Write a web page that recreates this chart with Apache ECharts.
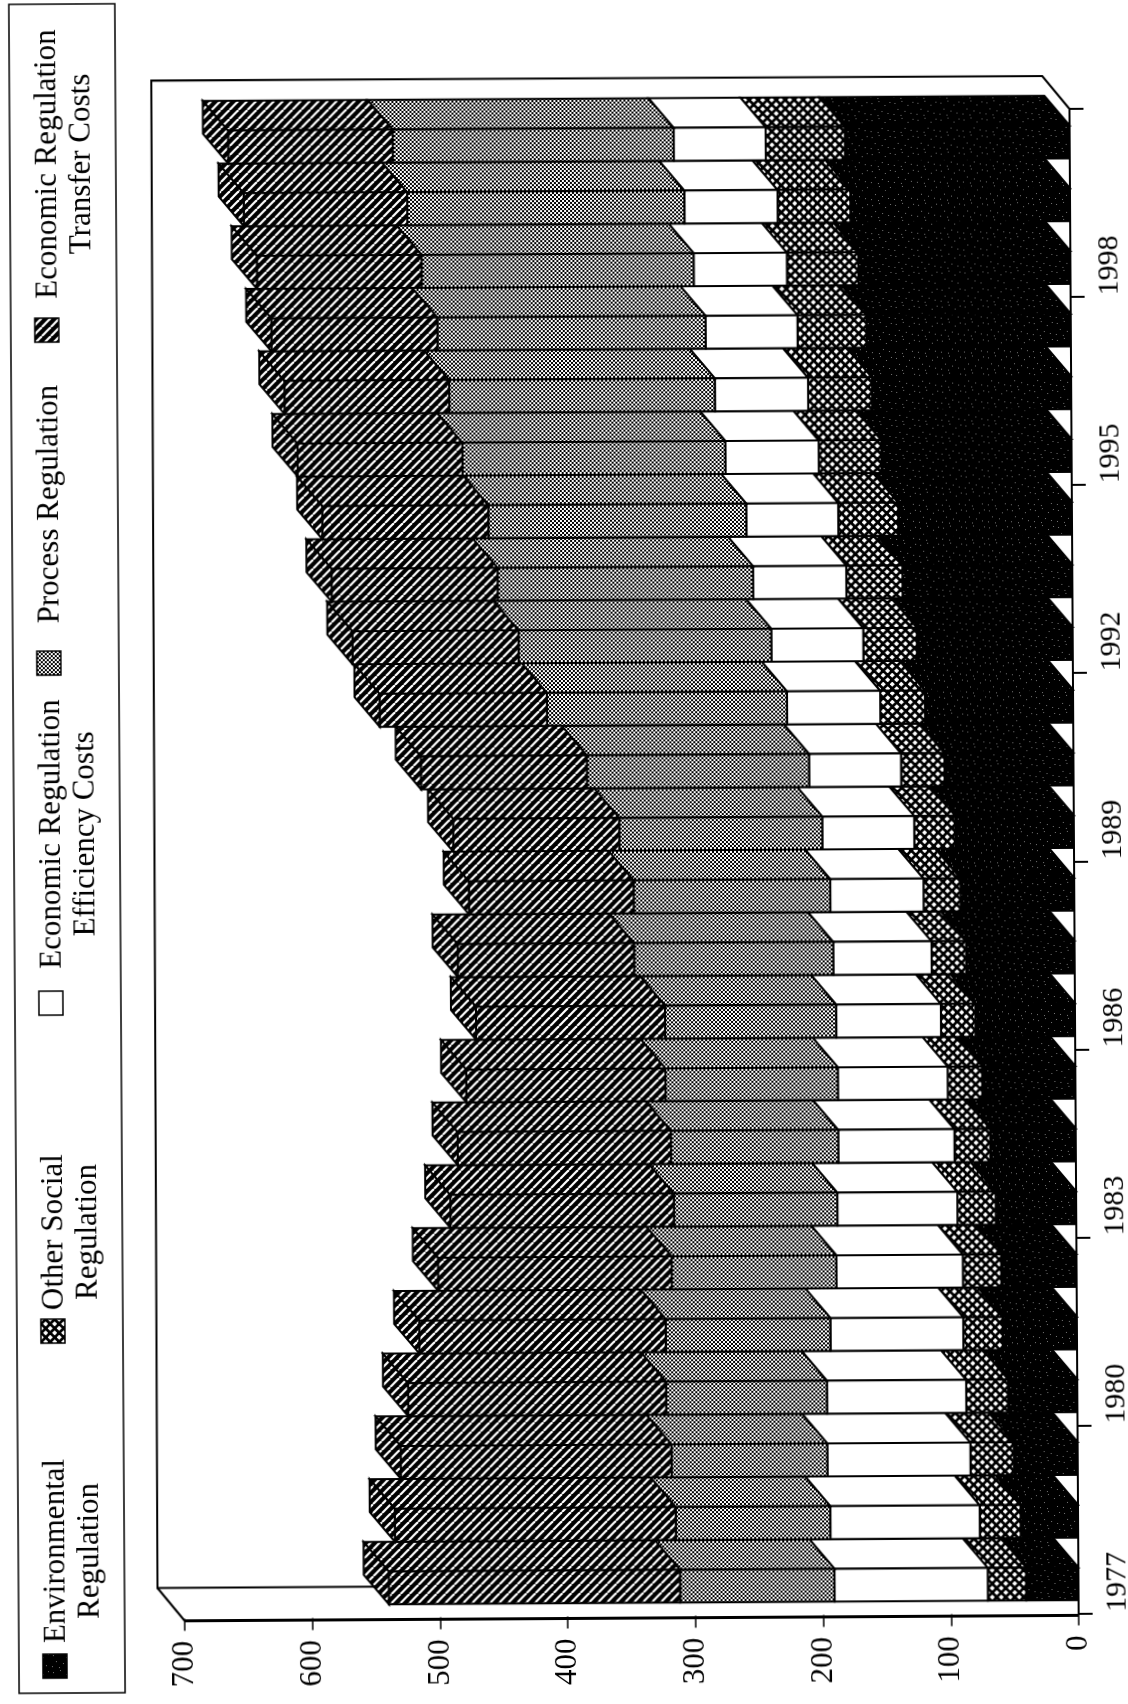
<!DOCTYPE html>
<html>
<head>
<meta charset="utf-8">
<title>Regulatory costs 1977-2000</title>
<script src="https://cdn.jsdelivr.net/npm/echarts@6/dist/echarts.min.js"></script>
<style>
    html, body { margin: 0; padding: 0; background: #fff; }
    /* the page was scanned a little crooked */
    #main { width: 1128px; height: 1704px; transform: rotate(-0.35deg); }
</style>
</head>
<body>
<div id="main"></div>
<script>
var years = ['1977','1978','1979','1980','1981','1982','1983','1984','1985','1986','1987','1988',
             '1989','1990','1991','1992','1993','1994','1995','1996','1997','1998','1999','2000'];
var environmental = [41,45,50,54,58,59,63,67,73,78,85,89,93,101,116,122,133,136,149,156,160,166,172,176];
var otherSocial   = [30,32,34,33,31,30,30,28,27,27,27,29,32,34,35,42,44,47,49,50,54,56,57,62];
var efficiency    = [120,117,112,109,104,99,94,91,86,82,77,73,72,72,73,72,73,72,73,73,72,73,73,72];
var processReg    = [121,121,122,126,129,129,128,131,135,134,156,154,159,174,188,198,200,202,206,208,210,213,217,220];
var transfer      = [228,220,212,202,193,183,175,167,156,148,138,129,130,130,131,130,130,130,129,129,130,129,128,129];
var valueTicks    = [0,100,200,300,400,500,600,700];
var legendNames   = ['Environmental\nRegulation','Other Social\nRegulation','Economic Regulation\nEfficiency Costs','Process Regulation','Economic Regulation\nTransfer Costs'];

var FONT = '"Liberation Serif", serif';
var DEPTH_X = -25, DEPTH_Y_RATIO = 0.475;

// pattern tiles
function tile(w, h, draw) {
    var c = document.createElement('canvas');
    c.width = w; c.height = h;
    var ctx = c.getContext('2d');
    draw(ctx, w, h);
    return { image: c, repeat: 'repeat' };
}
var patEnv = tile(23, 17, function (ctx, w, h) {
    ctx.fillStyle = '#000'; ctx.fillRect(0, 0, w, h);
    ctx.fillStyle = '#777';
    [[2,3],[9,1],[15,5],[20,2],[5,9],[12,11],[18,13],[1,14],[8,15]].forEach(function (p) { ctx.fillRect(p[0], p[1], 1, 1); });
});
var patSocial = tile(9, 9, function (ctx, w, h) {
    ctx.fillStyle = '#000'; ctx.fillRect(0, 0, w, h);
    ctx.fillStyle = '#fff';
    [[2.25, 2.25], [6.75, 6.75]].forEach(function (p) {
        ctx.beginPath();
        ctx.moveTo(p[0] - 2.6, p[1]); ctx.lineTo(p[0], p[1] - 2.6);
        ctx.lineTo(p[0] + 2.6, p[1]); ctx.lineTo(p[0], p[1] + 2.6);
        ctx.closePath(); ctx.fill();
    });
});
var patProcess = tile(4, 4, function (ctx, w, h) {
    ctx.fillStyle = '#fff'; ctx.fillRect(0, 0, w, h);
    ctx.fillStyle = '#000';
    ctx.fillRect(0, 0, 2, 2);
    ctx.fillRect(2, 2, 2, 2);
});
var patTransfer = tile(9, 9, function (ctx, w, h) {
    ctx.fillStyle = '#000'; ctx.fillRect(0, 0, w, h);
    ctx.strokeStyle = '#fff'; ctx.lineWidth = 2.2;
    [-9, 0, 9].forEach(function (o) {
        ctx.beginPath(); ctx.moveTo(o, 9); ctx.lineTo(o + 9, 0); ctx.stroke();
    });
});

var segments = [
    { name: 'Environmental Regulation', values: environmental, fill: patEnv },
    { name: 'Other Social Regulation', values: otherSocial, fill: patSocial },
    { name: 'Economic Regulation Efficiency Costs', values: efficiency, fill: '#fff' },
    { name: 'Process Regulation', values: processReg, fill: patProcess },
    { name: 'Economic Regulation Transfer Costs', values: transfer, fill: patTransfer }
];

// stacked bar with a depth side and, on the last segment, an end cap
function barRenderer(fill, isLast) {
    return function (params, api) {
        var i = api.value(0);
        var a = api.coord([api.value(1), i]);
        var b = api.coord([api.value(2), i]);
        var band = api.size([0, 1])[1];
        var bottom = a[1] + band * 0.29;
        var top = bottom - band * 0.525;
        var dy = -band * DEPTH_Y_RATIO;
        var style = { fill: fill, stroke: '#000', lineWidth: 2 };
        var kids = [
            { type: 'polygon', shape: { points: [[a[0], top], [b[0], top], [b[0] + DEPTH_X, top + dy], [a[0] + DEPTH_X, top + dy]] }, style: style },
            { type: 'rect', shape: { x: b[0], y: top, width: a[0] - b[0], height: bottom - top }, style: style }
        ];
        if (isLast) {
            kids.push({ type: 'polygon', shape: { points: [[b[0], top], [b[0], bottom], [b[0] + DEPTH_X, bottom + dy], [b[0] + DEPTH_X, top + dy]] }, style: style });
        }
        return { type: 'group', children: kids };
    };
}

var running = years.map(function () { return 0; });
var series = segments.map(function (seg, s) {
    var rows = seg.values.map(function (v, i) {
        var row = [i, running[i], running[i] + v];
        running[i] += v;
        return row;
    });
    return {
        type: 'custom', name: seg.name, z: 3, clip: false, silent: true,
        encode: { x: [1, 2], y: 0 },
        data: rows,
        renderItem: barRenderer(seg.fill, s === segments.length - 1)
    };
});

// back wall and floor of the 3D frame
series.unshift({
    type: 'custom', name: 'frame', z: 1, clip: false, silent: true,
    encode: { x: 0, y: 1 },
    data: [[0, 0]],
    renderItem: function (params, api) {
        var o = api.coord([0, 0]);
        var band = api.size([0, 1])[1];
        var right = o[0];
        var left = api.coord([700, 0])[0];
        var base = o[1] + band / 2;
        var topY = base - band * years.length;
        var dx = -27, dy = -31;
        var line = { stroke: '#000', lineWidth: 2, fill: null };
        return { type: 'group', children: [
            { type: 'polyline', shape: { points: [[right, topY], [right + dx, topY + dy - 2], [left + dx + 3, topY + dy - 3], [left + dx, base + dy], [right + dx, base + dy]] }, style: line },
            { type: 'line', shape: { x1: left, y1: base + 2, x2: left + dx, y2: base + dy }, style: line },
            { type: 'line', shape: { x1: left, y1: base + 2, x2: right, y2: base + 2 }, style: { stroke: '#000', lineWidth: 3 } }
        ] };
    }
});

// legend, typed sideways like the rest of the page
var legendPlace = [
    { swatchY: 1663, textY: 1548, textX: 69 },
    { swatchY: 1328, textY: 1229, textX: 69 },
    { swatchY: 1000, textY: 831, textX: 69 },
    { swatchY: 660, textY: 501, textX: 52 },
    { swatchY: 327, textY: 161, textX: 69 }
];
var graphic = [
    { type: 'rect', shape: { x: 14, y: 1, width: 106, height: 1689 }, style: { fill: null, stroke: '#000', lineWidth: 1.5 }, silent: true }
];
legendNames.forEach(function (name, k) {
    var p = legendPlace[k];
    graphic.push({ type: 'rect', shape: { x: 38, y: p.swatchY - 12, width: 24, height: 24 }, style: { fill: segments[k].fill, stroke: '#000', lineWidth: 1.5 }, silent: true });
    graphic.push({
        type: 'text', x: p.textX, y: p.textY, rotation: Math.PI / 2, silent: true,
        style: { text: name, font: '31px ' + FONT, fill: '#000', textAlign: 'center', textVerticalAlign: 'middle', lineHeight: 34 }
    });
});

var myChart = echarts.init(document.getElementById('main'));
myChart.setOption({
    animation: false,
    backgroundColor: '#fff',
    textStyle: { fontFamily: FONT },
    grid: { left: 180, right: 53.5, top: 112, bottom: 87.5, containLabel: false },
    xAxis: {
        type: 'value', inverse: true, min: valueTicks[0], max: valueTicks[valueTicks.length - 1], interval: 100,
        position: 'bottom',
        splitLine: { show: false },
        axisLine: { show: false },
        axisTick: { show: true, length: 12, lineStyle: { color: '#000', width: 1.5 } },
        axisLabel: { rotate: 90, margin: 22, color: '#000', fontSize: 31, fontFamily: FONT }
    },
    yAxis: {
        type: 'category', data: years, position: 'right',
        axisLine: { show: true, onZero: false, lineStyle: { color: '#000', width: 2 } },
        axisTick: { show: true, length: 14, lineStyle: { color: '#000', width: 2 } },
        axisLabel: { rotate: 90, interval: 2, margin: 24, color: '#000', fontSize: 30, fontFamily: FONT },
        splitLine: { show: false }
    },
    graphic: graphic,
    series: series
});
</script>
</body>
</html>
